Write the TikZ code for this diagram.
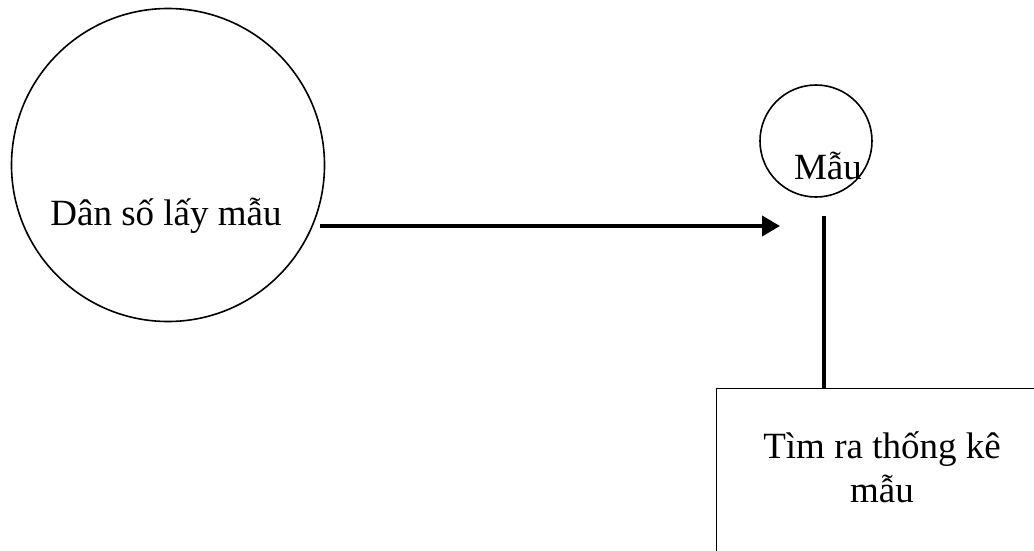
\documentclass[tikz,border=0pt]{standalone}
\usepackage{fontspec}
\setmainfont{Liberation Serif}
\usetikzlibrary{arrows.meta}

\begin{document}
\begin{tikzpicture}[x=1pt,y=-1pt,
  label text/.style={font=\fontsize{37}{44}\selectfont, inner sep=0pt},
  outline/.style={draw, line width=1.6pt, inner sep=0pt},
  flow/.style={line width=4pt, -{Triangle[length=18pt,width=20pt]}},
  link/.style={line width=3.2pt}]
  \useasboundingbox (0,0) rectangle (1034,550);

  % population circle and its caption
  \node[outline, circle, minimum size=313pt] (pop) at (168,165) {};
  \node[label text, anchor=base] (poptext) at (166,225) {Dân số lấy mẫu};

  % sample circle and its caption
  \node[outline, circle, minimum size=112pt] (sample) at (816,141) {};
  \node[label text, anchor=base] (sampletext) at (828,179) {Mẫu};

  % statistics box, running past the right and bottom edges
  \node[outline, line width=1.3pt, rectangle, anchor=north west,
        minimum width=340pt, minimum height=190pt] (stat) at (716,388) {};
  \node[label text, align=center, anchor=base] (stattext) at (882,502)
    {Tìm ra thống kê\\mẫu};

  % connectors
  \coordinate (from) at (320,226);
  \coordinate (to) at (780,226);
  \draw[flow] (from) -- (to);

  \coordinate (drop) at (824,216);
  \draw[link] (drop) -- (drop |- stat.north);
\end{tikzpicture}
\end{document}
